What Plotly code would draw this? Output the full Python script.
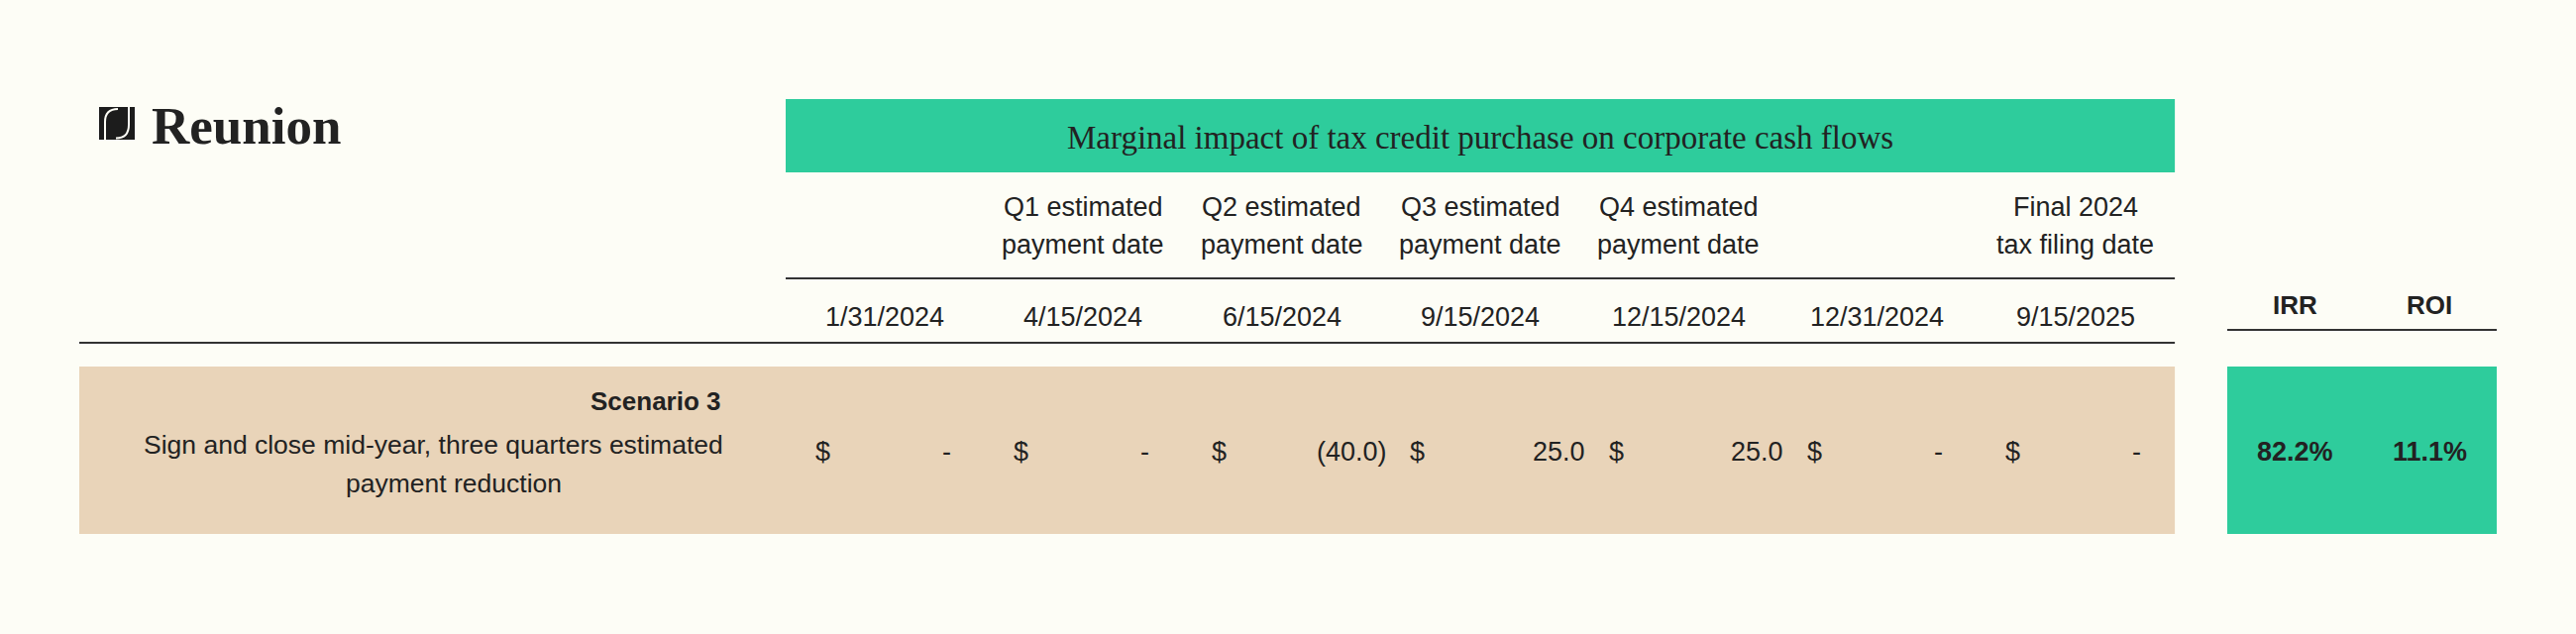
import plotly.graph_objects as go

# table content
title = "Marginal impact of tax credit purchase on corporate cash flows"
headers = ["", "Q1 estimated<br>payment date", "Q2 estimated<br>payment date",
           "Q3 estimated<br>payment date", "Q4 estimated<br>payment date",
           "", "Final 2024<br>tax filing date"]
dates = ["1/31/2024", "4/15/2024", "6/15/2024", "9/15/2024",
         "12/15/2024", "12/31/2024", "9/15/2025"]
cash_flows = [0.0, 0.0, -40.0, 25.0, 25.0, 0.0, 0.0]
scenario = "Scenario 3"
scenario_desc = ["Sign and close mid-year, three quarters estimated", "payment reduction"]
metric_names = ["IRR", "ROI"]
metric_values = [82.2, 11.1]

BG = "#FDFDF6"
GREEN = "#2ECC9C"
BEIGE = "#E9D4B9"
INK = "#222222"
LINE = "#333333"
SANS = "Liberation Sans, Arial, sans-serif"
SERIF = "Liberation Serif, Times New Roman, serif"

col_left = 793
col_w = 200.3
tbl_right = col_left + col_w * len(dates)
met_left, met_right = 2248, 2520
met_x = [2316, 2452]


def fmt(v):
    if v == 0:
        return "-"
    if v < 0:
        return "(%.1f)" % abs(v)
    return "%.1f" % v


fig = go.Figure()

ann = []


def txt(x, y, s, size=27, xanchor="center", bold=False, font=SANS):
    ann.append(dict(x=x, y=y, xref="x", yref="y", text=s, showarrow=False,
                    xanchor=xanchor, yanchor="middle",
                    font=dict(family=font, size=size, color=INK,
                              weight="bold" if bold else "normal")))


# logo
fig.add_shape(type="rect", x0=100, x1=136, y0=108, y1=141,
              fillcolor="#1c1c1c", line_width=0)
fig.add_shape(type="path", path="M 106 141 L 106 123 Q 106 110 119 110",
              line=dict(color=BG, width=2))
fig.add_shape(type="path", path="M 130 108 L 130 126 Q 130 139.5 117 139.5",
              line=dict(color=BG, width=2))
txt(151, 127, "Reunion", size=53, xanchor="left", bold=True, font=SERIF)

# title band
fig.add_shape(type="rect", x0=col_left, x1=tbl_right, y0=100, y1=174,
              fillcolor=GREEN, line_width=0)
txt((col_left + tbl_right) / 2, 139, title, size=33, font=SERIF)

# row backgrounds
fig.add_shape(type="rect", x0=80, x1=tbl_right, y0=370, y1=539,
              fillcolor=BEIGE, line_width=0)
fig.add_shape(type="rect", x0=met_left, x1=met_right, y0=370, y1=539,
              fillcolor=GREEN, line_width=0)

# rules
fig.add_shape(type="line", x0=col_left, x1=tbl_right, y0=281, y1=281,
              line=dict(color=LINE, width=2))
fig.add_shape(type="line", x0=80, x1=tbl_right, y0=346, y1=346,
              line=dict(color=LINE, width=2))
fig.add_shape(type="line", x0=met_left, x1=met_right, y0=333, y1=333,
              line=dict(color=LINE, width=2))

for i, (h, d, v) in enumerate(zip(headers, dates, cash_flows)):
    x0 = col_left + i * col_w
    xc = x0 + col_w / 2
    if h:
        l1, l2 = h.split("<br>")
        txt(xc, 209, l1)
        txt(xc, 247, l2)
    txt(xc, 320, d)
    txt(x0 + 37, 456, "$")
    if v == 0:
        txt(x0 + 162, 456, fmt(v))
    else:
        txt(x0 + 208, 456, fmt(v), xanchor="right")

# scenario label
txt(730, 405, scenario, size=26, xanchor="right", bold=True)
txt(732, 449, scenario_desc[0], size=26.5, xanchor="right")
txt(458, 488, scenario_desc[1], size=26.5)

# metrics
for x, name, val in zip(met_x, metric_names, metric_values):
    txt(x, 308, name, size=26, bold=True)
    txt(x, 456, "%.1f%%" % val, size=27, bold=True)

fig.update_layout(
    width=2600, height=640,
    margin=dict(l=0, r=0, t=0, b=0),
    paper_bgcolor=BG, plot_bgcolor=BG,
    showlegend=False,
    annotations=ann,
    xaxis=dict(range=[0, 2600], visible=False, fixedrange=True),
    yaxis=dict(range=[640, 0], visible=False, fixedrange=True),
)

fig.write_html("out.html", config={"displayModeBar": False},
               post_script="document.body.style.margin='0';"
                           "document.body.style.background='" + BG + "';")
